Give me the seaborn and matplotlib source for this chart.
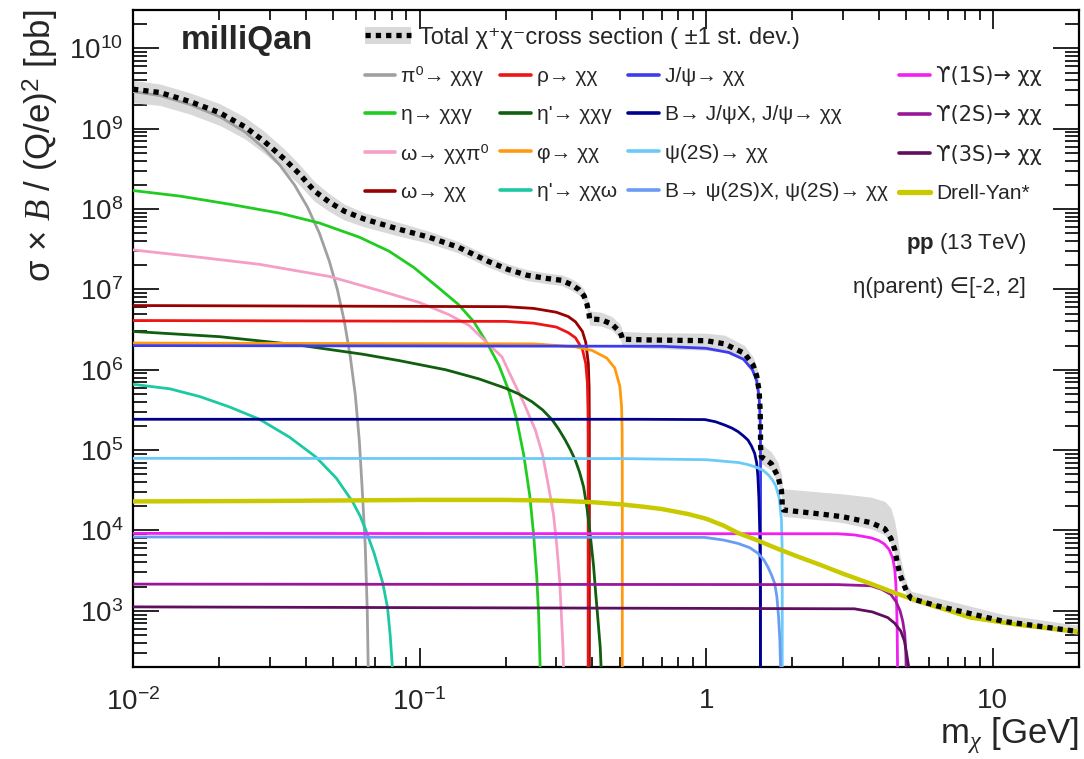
import numpy as np
import pandas as pd
import matplotlib
matplotlib.use("Agg")
import matplotlib.pyplot as plt
import seaborn as sns
from matplotlib.lines import Line2D
from matplotlib.patches import Patch
from matplotlib.ticker import FixedLocator, FixedFormatter, LogLocator, NullFormatter, LogFormatterSciNotation

# ---------------- data ----------------
pi0_x = [0.01, 0.01241, 0.01579, 0.02007, 0.02453, 0.02878, 0.03246, 0.0366, 0.04061, 0.04472,
         0.04844, 0.05164, 0.05465, 0.05732, 0.05966, 0.0616, 0.0631, 0.06463, 0.06568, 0.06648]
pi0_y = [2.9e9, 2.585e9, 2.0e9, 1.41e9, 9.17e8, 5.62e8, 3.55e8, 2.0e8, 1.06e8, 5.0e7,
         2.24e7, 1.0e7, 3.98e6, 1.45e6, 4.87e5, 1.33e5, 3.16e4, 6.5e3, 1.0e3, 75]

eta_x = [0.01, 0.01457, 0.0217, 0.03246, 0.04472, 0.0616, 0.07824, 0.09538, 0.116, 0.1366,
         0.1545, 0.1733, 0.1889, 0.2044, 0.2183, 0.231, 0.2423, 0.2502, 0.2563, 0.2604, 0.2635, 0.2656]
eta_y = [1.7e8, 1.45e8, 1.15e8, 8.9e7, 6.7e7, 4.47e7, 2.99e7, 1.88e7, 1.06e7, 6.5e6,
         3.98e6, 2.05e6, 1.15e6, 5.6e5, 2.37e5, 8.66e4, 2.74e4, 8.66e3, 2.74e3, 866, 195, 42]

omdal_x = [0.01, 0.0171, 0.02765, 0.04844, 0.07224, 0.09962, 0.1263, 0.1491, 0.1733, 0.1938,
           0.2098, 0.231, 0.2535, 0.2689, 0.282, 0.2936, 0.3015, 0.3082, 0.3124, 0.3168, 0.3207]
omdal_y = [3.1e7, 2.51e7, 2.05e7, 1.45e7, 9.7e6, 6.9e6, 4.87e6, 3.55e6, 2.11e6, 1.45e6,
           7.9e5, 3.87e5, 1.78e5, 8.66e4, 3.5e4, 1.54e4, 6.2e3, 2.37e3, 910, 316, 42]

etapg_x = [0.01, 0.02007, 0.0371, 0.0634, 0.08489, 0.1234, 0.1611, 0.1995, 0.2219, 0.2468,
           0.2689, 0.2897, 0.3056, 0.3225, 0.3365, 0.3495, 0.3617, 0.3735, 0.384, 0.3937,
           0.4046, 0.412, 0.4195, 0.427, 0.4348]
etapg_y = [3.0e6, 2.58e6, 2.05e6, 1.56e6, 1.3e6, 1.0e6, 7.7e5, 5.9e5, 5.0e5, 4.0e5,
           3.16e5, 2.4e5, 1.83e5, 1.33e5, 1.0e5, 7.5e4, 5.3e4, 3.5e4, 1.88e4, 9.1e3,
           3.65e3, 1.6e3, 750, 350, 75]

etapw_x = [0.01, 0.01345, 0.0171, 0.0217, 0.02765, 0.03516, 0.0435, 0.05124, 0.0584, 0.06209,
           0.065, 0.06946, 0.0743, 0.0773, 0.079, 0.0804, 0.0812]
etapw_y = [6.6e5, 5.79e5, 4.64e5, 3.45e5, 2.42e5, 1.45e5, 8.2e4, 4.47e4, 2.27e4, 1.5e4,
           1.0e4, 5.16e3, 2.26e3, 1.1e3, 487, 195, 42]

omega_x = [0.01, 0.2, 0.25, 0.3, 0.33, 0.35, 0.37, 0.38, 0.388, 0.3905, 0.3912, 0.39129, 0.3913]
omega_y = [6.3e6, 6.1e6, 5.8e6, 5.2e6, 4.6e6, 3.95e6, 3.0e6, 2.2e6, 1.2e6, 6.0e5, 2.1e5, 3.0e4, 10]

rho_x = [0.01, 0.2, 0.25, 0.3, 0.33, 0.35, 0.37, 0.38, 0.385, 0.387, 0.3874, 0.38749, 0.3875]
rho_y = [4.1e6, 4.0e6, 3.8e6, 3.4e6, 2.9e6, 2.5e6, 1.8e6, 1.2e6, 6.9e5, 3.1e5, 1.4e5, 1.8e4, 10]

phi_x = [0.01, 0.25, 0.35, 0.4, 0.45, 0.48, 0.5, 0.507, 0.509, 0.5097, 0.50979, 0.5098]
phi_y = [2.15e6, 2.1e6, 1.93e6, 1.74e6, 1.4e6, 1.05e6, 6.2e5, 3.4e5, 1.8e5, 6.4e4, 1.4e4, 10]

jpsi_x = [0.01, 0.7, 1.0, 1.2, 1.35, 1.45, 1.5, 1.53, 1.543, 1.547, 1.5483, 1.54848, 1.5485]
jpsi_y = [2.0e6, 1.96e6, 1.85e6, 1.64e6, 1.35e6, 1.0e6, 7.3e5, 4.6e5, 2.5e5, 1.3e5, 4.8e4, 1.0e4, 10]

bjpsi_x = [0.01, 0.58, 0.99, 1.08, 1.161, 1.23, 1.292, 1.35, 1.4, 1.44, 1.477, 1.5, 1.515,
           1.528, 1.538, 1.545, 1.5485]
bjpsi_y = [2.42e5, 2.42e5, 2.4e5, 2.25e5, 2.05e5, 1.88e5, 1.7e5, 1.5e5, 1.33e5, 1.12e5, 9.1e4,
           7.0e4, 4.8e4, 2.5e4, 1.0e4, 2.5e3, 10]

psi2s_x = [0.01, 0.5, 1.0, 1.3, 1.4, 1.5, 1.58, 1.65, 1.7, 1.75, 1.8, 1.83, 1.84, 1.8428, 1.843]
psi2s_y = [7.9e4, 7.85e4, 7.6e4, 7.0e4, 6.6e4, 6.1e4, 5.6e4, 4.9e4, 4.3e4, 3.6e4, 2.5e4,
           1.4e4, 6.8e3, 1.8e3, 10]

bpsi2s_x = [0.01, 0.99, 1.15, 1.292, 1.42, 1.517, 1.59, 1.643, 1.69, 1.734, 1.765, 1.79,
            1.807, 1.819, 1.835, 1.843]
bpsi2s_y = [8.3e3, 8.2e3, 7.6e3, 6.9e3, 6.1e3, 5.2e3, 4.3e3, 3.5e3, 2.8e3, 2.2e3, 1.5e3, 830,
            450, 195, 40, 10]

ups1_x = [0.01, 2.877, 3.3, 3.758, 4.0, 4.183, 4.35, 4.47, 4.55, 4.59, 4.62, 4.64, 4.655, 4.69, 4.73]
ups1_y = [9.2e3, 9.1e3, 8.8e3, 8.1e3, 7.5e3, 6.8e3, 5.8e3, 4.6e3, 3.3e3, 2.2e3, 1.2e3, 600,
          195, 40, 10]

ups2_x = [0.01, 2.877, 3.758, 4.1, 4.41, 4.6, 4.75, 4.85, 4.93, 4.97, 4.99, 5.005, 5.01]
ups2_y = [2.15e3, 2.12e3, 2.05e3, 1.85e3, 1.6e3, 1.3e3, 1.0e3, 750, 520, 330, 190, 60, 10]

ups3_x = [0.01, 3.29, 3.8, 4.3, 4.55, 4.776, 4.92, 5.01, 5.07, 5.1, 5.15, 5.178]
ups3_y = [1.12e3, 1.06e3, 970, 825, 700, 560, 420, 288, 220, 195, 40, 10]

dy_x = [0.01, 0.03, 0.1, 0.2, 0.3, 0.4, 0.5, 0.6, 0.7, 0.866, 1.0, 1.15, 1.292, 1.5, 1.78,
        2.1, 2.518, 3.0, 3.758, 4.4, 5.04, 6.5, 8.37, 12.0, 20.0]
dy_y = [2.3e4, 2.33e4, 2.4e4, 2.4e4, 2.35e4, 2.25e4, 2.12e4, 1.98e4, 1.85e4, 1.6e4, 1.4e4,
        1.15e4, 9.3e3, 7.6e3, 5.9e3, 4.7e3, 3.7e3, 2.9e3, 2.17e3, 1.75e3, 1.47e3, 1.1e3,
        825, 680, 550]

total_x = [0.01, 0.01241, 0.01579, 0.02007, 0.02453, 0.02878, 0.03372, 0.03806, 0.04295, 0.04844,
           0.05465, 0.06418, 0.08489, 0.1077, 0.1366, 0.1733, 0.2028, 0.2373, 0.2777, 0.3125,
           0.3382, 0.359, 0.375, 0.384, 0.39, 0.392, 0.43, 0.469, 0.5, 0.507,
           0.5098, 0.628, 1.0, 1.16, 1.36, 1.457, 1.5, 1.53, 1.543, 1.547,
           1.5485, 1.557, 1.687, 1.78, 1.83, 1.84, 1.843, 1.86, 2.52, 3.0,
           3.76, 4.2, 4.41, 4.55, 4.655, 4.75, 4.9, 5.04, 5.2, 6.41,
           10.9, 20.0]
total_y = [3.1e9, 2.82e9, 2.18e9, 1.58e9, 1.06e9, 6.9e8, 4.2e8, 2.74e8, 1.68e8, 1.22e8,
           9.4e7, 7.5e7, 5.6e7, 4.47e7, 3.35e7, 2.24e7, 1.78e7, 1.5e7, 1.37e7, 1.3e7,
           1.15e7, 1.0e7, 8.3e6, 6.5e6, 5.0e6, 4.3e6, 4.2e6, 3.7e6, 2.95e6, 2.65e6,
           2.4e6, 2.35e6, 2.3e6, 2.1e6, 1.6e6, 1.15e6, 8.5e5, 5.5e5, 3.2e5, 2.0e5,
           1.1e5, 8.3e4, 6.8e4, 4.7e4, 3.2e4, 2.5e4, 1.9e4, 1.8e4, 1.6e4, 1.48e4,
           1.25e4, 1.05e4, 8.0e3, 5.8e3, 3.8e3, 2.8e3, 2.1e3, 1.65e3, 1.42e3, 1.15e3,
           740, 550]
total_lo = [2.1e9, 1.95e9, 1.52e9, 1.1e9, 7.5e8, 4.9e8, 3.0e8, 2.0e8, 1.25e8, 9.3e7,
            7.3e7, 6.0e7, 4.6e7, 3.75e7, 2.85e7, 1.9e7, 1.52e7, 1.29e7, 1.18e7, 1.12e7,
            9.8e6, 8.6e6, 7.1e6, 5.5e6, 4.2e6, 3.6e6, 3.5e6, 3.1e6, 2.45e6, 2.2e6,
            1.95e6, 1.85e6, 1.75e6, 1.65e6, 1.3e6, 9.0e5, 6.6e5, 4.3e5, 2.5e5, 1.55e5,
            8.8e4, 6.8e4, 5.6e4, 3.9e4, 2.7e4, 2.1e4, 1.6e4, 1.5e4, 1.35e4, 1.25e4,
            1.05e4, 8.8e3, 6.8e3, 5.0e3, 3.3e3, 2.45e3, 1.9e3, 1.5e3, 1.3e3, 1.05e3,
            680, 510]
total_hi = [4.0e9, 3.6e9, 2.8e9, 2.05e9, 1.4e9, 9.2e8, 5.6e8, 3.6e8, 2.2e8, 1.55e8,
            1.15e8, 9.0e7, 6.8e7, 5.3e7, 3.95e7, 2.62e7, 2.08e7, 1.76e7, 1.6e7, 1.52e7,
            1.36e7, 1.2e7, 1.0e7, 8.0e6, 6.2e6, 5.4e6, 5.2e6, 4.6e6, 3.7e6, 3.3e6,
            3.0e6, 2.9e6, 2.85e6, 2.7e6, 2.0e6, 1.45e6, 1.1e6, 7.2e5, 4.3e5, 2.7e5,
            1.6e5, 1.2e5, 9.5e4, 7.0e4, 5.0e4, 4.2e4, 3.5e4, 3.3e4, 3.0e4, 2.85e4,
            2.6e4, 2.3e4, 1.9e4, 1.3e4, 8.0e3, 4.8e3, 2.9e3, 2.1e3, 1.75e3, 1.45e3,
            900, 660]

# legend order (column-major: 4 columns x 4 rows)
labels = ["π⁰→ χχγ", "η→ χχγ", "ω→ χχπ⁰", "ω→ χχ",
          "ρ→ χχ", "η'→ χχγ", "φ→ χχ", "η'→ χχω",
          "J/ψ→ χχ", "B→ J/ψX, J/ψ→ χχ", "ψ(2S)→ χχ", "B→ ψ(2S)X, ψ(2S)→ χχ",
          "ϒ(1S)→ χχ", "ϒ(2S)→ χχ", "ϒ(3S)→ χχ", "Drell-Yan*"]
xs_list = [pi0_x, eta_x, omdal_x, omega_x, rho_x, etapg_x, phi_x, etapw_x,
           jpsi_x, bjpsi_x, psi2s_x, bpsi2s_x, ups1_x, ups2_x, ups3_x, dy_x]
ys_list = [pi0_y, eta_y, omdal_y, omega_y, rho_y, etapg_y, phi_y, etapw_y,
           jpsi_y, bjpsi_y, psi2s_y, bpsi2s_y, ups1_y, ups2_y, ups3_y, dy_y]
colors = ["#a0a0a0", "#20cc20", "#f59ec6", "#990000",
          "#ee1515", "#0f5f0f", "#ff9a10", "#1dc9a2",
          "#3b3bef", "#000090", "#6ccaf7", "#6a9cf5",
          "#f21ef2", "#991899", "#5e0f5e", "#c9c900"]
widths = [2.0] * 15 + [3.2]

# ---------------- style ----------------
sns.set_style("ticks")
plt.rcParams['font.family'] = ['Liberation Sans', 'DejaVu Sans']
plt.rcParams['mathtext.fontset'] = 'custom'
plt.rcParams['mathtext.rm'] = 'Liberation Sans'
plt.rcParams['mathtext.it'] = 'Liberation Serif:italic'
plt.rcParams['mathtext.bf'] = 'Liberation Sans:bold'

fig = plt.figure(figsize=(10.84, 7.59), dpi=100)
ax = fig.add_axes([133 / 1084, 1 - 667 / 759, 946 / 1084, 657 / 759])
ax.set_xscale('log')
ax.set_yscale('log')

ax.fill_between(total_x, total_lo, total_hi, color='#d9d9d9', lw=0, zorder=1)

handles = []
for lab, xs, ys, c, w in zip(labels, xs_list, ys_list, colors, widths):
    sns.lineplot(x=xs, y=ys, color=c, lw=w, ax=ax, estimator=None, sort=False,
                 zorder=3 if lab != "Drell-Yan*" else 4)
    handles.append(Line2D([], [], color=c, lw=w + 0.6))

sns.lineplot(x=total_x, y=total_y, color='black', lw=3.8, ax=ax, estimator=None,
             sort=False, zorder=6)
ax.lines[-1].set_linestyle((0, (1.0, 0.95)))

ax.set_xlim(0.01, 20)
ax.set_ylim(200, 3e10)

# ticks
ax.xaxis.set_major_locator(FixedLocator([0.01, 0.1, 1, 10]))
ax.xaxis.set_major_formatter(FixedFormatter([r"$\mathdefault{10^{-2}}$", r"$\mathdefault{10^{-1}}$", "1", "10"]))
ax.xaxis.set_minor_locator(LogLocator(base=10, subs=np.arange(2, 10), numticks=20))
ax.xaxis.set_minor_formatter(NullFormatter())
ax.yaxis.set_major_locator(FixedLocator([1e3, 1e4, 1e5, 1e6, 1e7, 1e8, 1e9, 1e10]))
ax.yaxis.set_major_formatter(LogFormatterSciNotation())
ax.yaxis.set_minor_locator(LogLocator(base=10, subs=np.arange(2, 10), numticks=30))
ax.yaxis.set_minor_formatter(NullFormatter())

ax.tick_params(which='both', direction='in', top=True, right=True, width=1.2, color='black')
ax.tick_params(axis='y', which='major', length=19, pad=7, labelsize=20)
ax.tick_params(axis='y', which='minor', length=10, labelleft=False)
ax.tick_params(axis='x', which='major', length=14, pad=15, labelsize=20)
ax.tick_params(axis='x', which='minor', length=7, labelbottom=False)
for s in ax.spines.values():
    s.set_linewidth(1.6)
    s.set_color('black')

ax.set_xlabel(r"m$_{\chi}$ [GeV]", loc='right', fontsize=25, labelpad=0)
ax.set_ylabel(r"σ × $B$ / (Q/e)$^{2}$ [pb]", loc='top', fontsize=25, labelpad=6)

# texts
ax.text(0.05, 0.954, "milliQan", transform=ax.transAxes, fontsize=24, fontweight='bold',
        ha='left', va='center')
ax.text(0.944, 0.645, r"$\mathbf{pp}$ (13 TeV)", transform=ax.transAxes, fontsize=16,
        ha='right', va='center')
ax.text(0.944, 0.578, "η(parent) ∈[-2, 2]", transform=ax.transAxes, fontsize=16,
        ha='right', va='center')

# legends
leg1 = ax.legend(handles=handles, labels=labels, ncol=4, loc='upper left',
                 bbox_to_anchor=(0.245, 0.915), frameon=False, fontsize=15,
                 handlelength=1.45, handletextpad=0.3, columnspacing=0.55,
                 labelspacing=0.93, borderpad=0, borderaxespad=0)
for t in leg1.get_texts():
    if t.get_text().startswith("ϒ"):
        t.set_fontfamily(['DejaVu Sans', 'Liberation Sans'])
ax.add_artist(leg1)
tot_handle = (Patch(facecolor='#d9d9d9', edgecolor='none'),
              Line2D([], [], color='black', lw=3.8, linestyle=(0, (1.0, 0.95))))
leg0 = ax.legend(handles=[tot_handle], labels=["Total χ⁺χ⁻cross section ( ±1 st. dev.)"],
                 loc='upper left', bbox_to_anchor=(0.245, 0.9745), frameon=False,
                 fontsize=17, handlelength=1.95, handletextpad=0.35, borderpad=0,
                 borderaxespad=0, handleheight=0.75)

fig.savefig("out.png", dpi=100)
